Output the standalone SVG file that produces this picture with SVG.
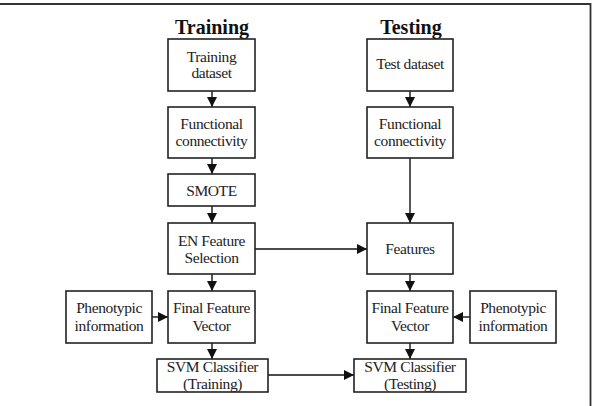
<svg xmlns="http://www.w3.org/2000/svg" width="599" height="406" viewBox="0 0 599 406">
<style>
.box{fill:#fff;stroke:#222;stroke-width:1.6}
.t{font-family:"Liberation Serif","Times New Roman",serif;font-size:15.5px;letter-spacing:-0.4px;fill:#222;text-anchor:middle}
.h{font-family:"Liberation Serif","Times New Roman",serif;font-size:20px;font-weight:bold;fill:#111;text-anchor:middle}
.c{stroke:#111;stroke-width:1.4;fill:none}
.frame{stroke:#333;stroke-width:1.8;fill:none}
</style>
<defs>
<marker id="ah" viewBox="0 0 10 10" refX="10" refY="5" markerWidth="10" markerHeight="10" markerUnits="userSpaceOnUse" orient="auto">
<path d="M0,0 L10,5 L0,10 Z" fill="#111"/>
</marker>
</defs>
<rect width="599" height="406" fill="#fff"/>
<path class="frame" d="M0,4 H590.5 V406"/>
<text class="h" x="212" y="34">Training</text>
<text class="h" x="411" y="34">Testing</text>
<g id="connectors">
<line class="c" x1="212" y1="91" x2="212" y2="107" marker-end="url(#ah)"/>
<line class="c" x1="212" y1="158" x2="212" y2="174" marker-end="url(#ah)"/>
<line class="c" x1="212" y1="206" x2="212" y2="223" marker-end="url(#ah)"/>
<line class="c" x1="212" y1="274" x2="212" y2="291" marker-end="url(#ah)"/>
<line class="c" x1="212" y1="343" x2="212" y2="359" marker-end="url(#ah)"/>
<line class="c" x1="152" y1="317" x2="168" y2="317" marker-end="url(#ah)"/>
<line class="c" x1="410" y1="91" x2="410" y2="107" marker-end="url(#ah)"/>
<line class="c" x1="410" y1="158" x2="410" y2="223" marker-end="url(#ah)"/>
<line class="c" x1="255" y1="249" x2="367" y2="249" marker-end="url(#ah)"/>
<line class="c" x1="410" y1="274" x2="410" y2="291" marker-end="url(#ah)"/>
<line class="c" x1="470" y1="317" x2="453" y2="317" marker-end="url(#ah)"/>
<line class="c" x1="410" y1="343" x2="410" y2="359" marker-end="url(#ah)"/>
<line class="c" x1="268" y1="375" x2="354" y2="375" marker-end="url(#ah)"/>
</g>
<g id="train-dataset"><rect class="box" x="168" y="39" width="87" height="52"/><text class="t" x="211.5" y="62">Training</text><text class="t" x="211.5" y="78">dataset</text></g>
<g id="train-fc"><rect class="box" x="168" y="107" width="87" height="51"/><text class="t" x="211.5" y="129">Functional</text><text class="t" x="211.5" y="146">connectivity</text></g>
<g id="smote"><rect class="box" x="168" y="174" width="87" height="32"/><text class="t" x="211.5" y="196">SMOTE</text></g>
<g id="en"><rect class="box" x="168" y="223" width="87" height="51"/><text class="t" x="211.5" y="246">EN Feature</text><text class="t" x="211.5" y="263">Selection</text></g>
<g id="train-ffv"><rect class="box" x="168" y="291" width="87" height="52"/><text class="t" x="211.5" y="313">Final Feature</text><text class="t" x="211.5" y="331">Vector</text></g>
<g id="train-pheno"><rect class="box" x="66" y="291" width="86" height="52"/><text class="t" x="109" y="313">Phenotypic</text><text class="t" x="109" y="331">information</text></g>
<g id="svm-train"><rect class="box" x="157" y="359" width="111" height="33"/><text class="t" x="212.5" y="372">SVM Classifier</text><text class="t" x="212.5" y="389">(Training)</text></g>
<g id="test-dataset"><rect class="box" x="367" y="39" width="86" height="52"/><text class="t" x="410" y="69">Test dataset</text></g>
<g id="test-fc"><rect class="box" x="367" y="107" width="86" height="51"/><text class="t" x="410" y="129">Functional</text><text class="t" x="410" y="146">connectivity</text></g>
<g id="features"><rect class="box" x="367" y="223" width="86" height="51"/><text class="t" x="410" y="254">Features</text></g>
<g id="test-ffv"><rect class="box" x="367" y="291" width="86" height="52"/><text class="t" x="410" y="313">Final Feature</text><text class="t" x="410" y="331">Vector</text></g>
<g id="test-pheno"><rect class="box" x="470" y="291" width="86" height="52"/><text class="t" x="513" y="313">Phenotypic</text><text class="t" x="513" y="331">information</text></g>
<g id="svm-test"><rect class="box" x="354" y="359" width="112" height="33"/><text class="t" x="410" y="372">SVM Classifier</text><text class="t" x="410" y="389">(Testing)</text></g>
</svg>
